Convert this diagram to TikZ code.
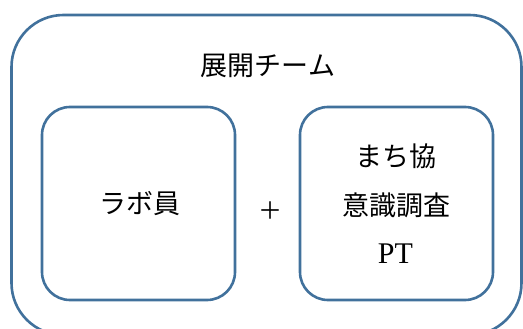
\documentclass[tikz,border=0pt]{standalone}
\usepackage{fontspec}
\setmainfont{Liberation Serif}
\newfontfamily\cjk{Noto Sans CJK JP}
\definecolor{boxblue}{HTML}{41719C}
\begin{document}
\begin{tikzpicture}[x=1pt,y=-1pt,
  frame/.style={draw=boxblue,line width=2.6pt,rectangle,inner sep=0pt},
  label/.style={inner sep=0pt,font=\cjk\fontsize{27}{30}\selectfont,text=black}]
\useasboundingbox (0,0) rectangle (523,329);
\node[frame,rounded corners=52pt,minimum width=510pt,minimum height=320pt] (outer) at (266.5,175) {};
\node[frame,rounded corners=28pt,minimum width=193pt,minimum height=193pt] (lab) at (138.5,203.5) {};
\node[frame,rounded corners=28pt,minimum width=193pt,minimum height=193pt] (pt) at (396.5,203.5) {};
\node[label] (title) at (268,66) {展開チーム};
\node[label] (labtext) at (140,204) {ラボ員};
\node[label,font=\cjk\fontsize{24}{28}\selectfont] (plus) at (270,211) {＋};
\node[label] (machi) at (396,156) {まち協};
\node[label] (ishiki) at (396,205) {意識調査};
\node[inner sep=0pt,font=\fontsize{30}{32}\selectfont,anchor=base] (ptname) at (395.5,263) {PT};
\end{tikzpicture}
\end{document}
